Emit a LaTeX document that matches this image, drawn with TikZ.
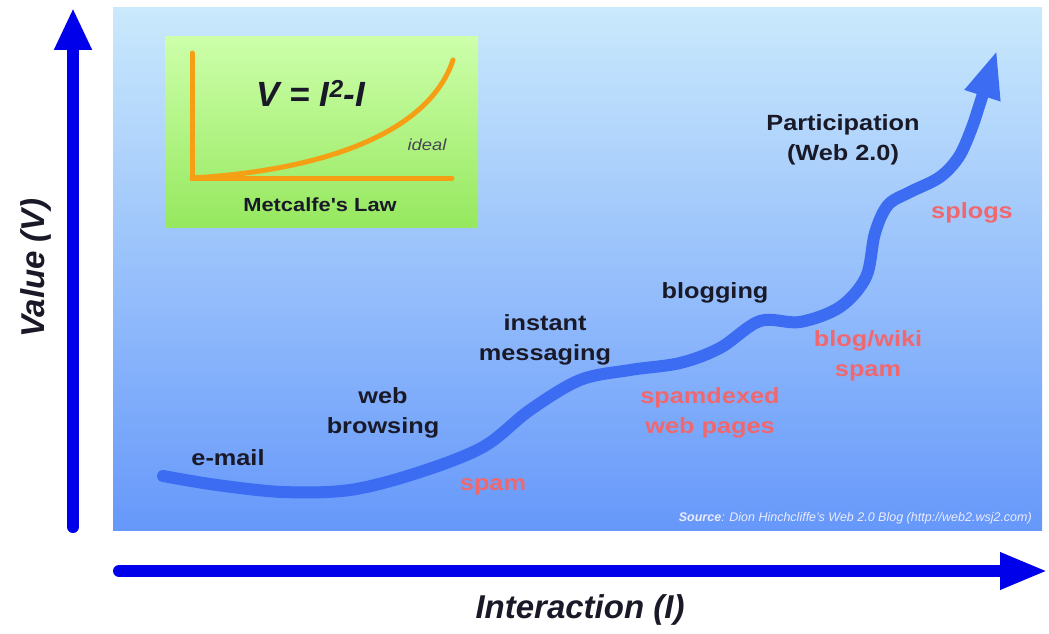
\documentclass[tikz,border=0pt]{standalone}
\usepackage{fontspec}
\setmainfont{Liberation Sans}
\newfontfamily\widefont{Liberation Sans}[FakeStretch=1.15]
\usetikzlibrary{arrows.meta}

\definecolor{axisblue}{RGB}{0,0,235}
\definecolor{curveblue}{RGB}{60,108,242}
\definecolor{panetop}{RGB}{202,233,252}
\definecolor{panebottom}{RGB}{102,152,250}
\definecolor{lawtop}{RGB}{205,255,170}
\definecolor{lawbottom}{RGB}{150,232,95}
\definecolor{lawline}{RGB}{245,160,20}
\definecolor{spamred}{RGB}{240,104,110}
\definecolor{textdark}{RGB}{25,25,40}

\begin{document}
\begin{tikzpicture}[x=1pt,y=-1pt,
    good/.style={font={\widefont\bfseries\fontsize{22}{30}\selectfont}, text=textdark, align=center, inner sep=0pt},
    bad/.style={good, text=spamred},
    axislabel/.style={font={\bfseries\itshape\fontsize{33}{36}\selectfont}, text=textdark, inner sep=0pt},
    axis/.style={line width=12pt, axisblue, line cap=round}]
        \useasboundingbox (0,0) rectangle (1049,634);
        % panel
        \shade[top color=panetop, bottom color=panebottom] (113,8) rectangle (1042,530);
        % axes
        \coordinate (vstart) at (73,527);
        \coordinate (vend) at (73,8);
        \coordinate (istart) at (119,571);
        \coordinate (iend) at (1048,571);
        \draw[axis, -{Triangle[length=42pt,width=35pt]}] (vstart) -- (vend);
        \draw[axis, -{Triangle[length=48pt,width=34pt]}] (istart) -- (iend);
        \node[axislabel, rotate=90] (vlabel) at (36,268) {Value (V)};
        \node[axislabel] (ilabel) at (580,610) {Interaction (I)};
        % Metcalfe inset
        \shade[top color=lawtop, bottom color=lawbottom] (165,37) rectangle (478,227);
        \coordinate (lawo) at (192,178);
        \draw[lawline, line width=5pt, line cap=round] (192,53) -- (lawo) -- (452,178);
        \draw[lawline, line width=5pt, line cap=round] (lawo) .. controls (330,170) and (430,130) .. (453,60);
        \node[font={\bfseries\itshape\fontsize{35}{38}\selectfont}, text=textdark, inner sep=0pt] (law) at (311,93) {V = I\textsuperscript{2}-I};
        \node[font={\widefont\itshape\fontsize{16}{18}\selectfont}, text=textdark!80, inner sep=0pt] (ideal) at (427,145) {ideal};
        \node[font={\widefont\bfseries\fontsize{19}{21}\selectfont}, text=textdark, inner sep=0pt] (lawname) at (320,205) {Metcalfe's Law};
        % value curve
        \draw[curveblue, line width=12pt, line cap=round, -{Triangle[length=48pt,width=34pt]}]
            plot[smooth, tension=0.55] coordinates {(163,476) (217,485) (283,492) (350,490) (417,473)
            (483,447) (530,410) (580,380) (630,370) (680,363) (720,348) (760,321) (800,322) (840,307)
            (866,277) (875,233) (888,205) (910,192) (940,177) (960,155) (974,122)}
            -- (997,50);
        % stages
        \node[good] (email) at (228,458) {e-mail};
        \node[good] (web) at (383,413) {web\\browsing};
        \node[good] (im) at (545,340) {instant\\messaging};
        \node[good] (blog) at (715,293) {blogging};
        \node[good] (part) at (843,140) {Participation\\(Web 2.0)};
        \node[bad] (spam) at (493,487) {spam};
        \node[bad] (spamdex) at (710,413) {spamdexed\\web pages};
        \node[bad] (wikispam) at (868,356) {blog/wiki\\spam};
        \node[bad] (splogs) at (972,213) {splogs};
        \node[anchor=east, font={\itshape\fontsize{12.5}{14}\selectfont}, text=white!92!blue, inner sep=0pt] (src) at (1032,518)
            {\textbf{Source}: Dion Hinchcliffe's Web 2.0 Blog (http://web2.wsj2.com)};
\end{tikzpicture}
\end{document}
